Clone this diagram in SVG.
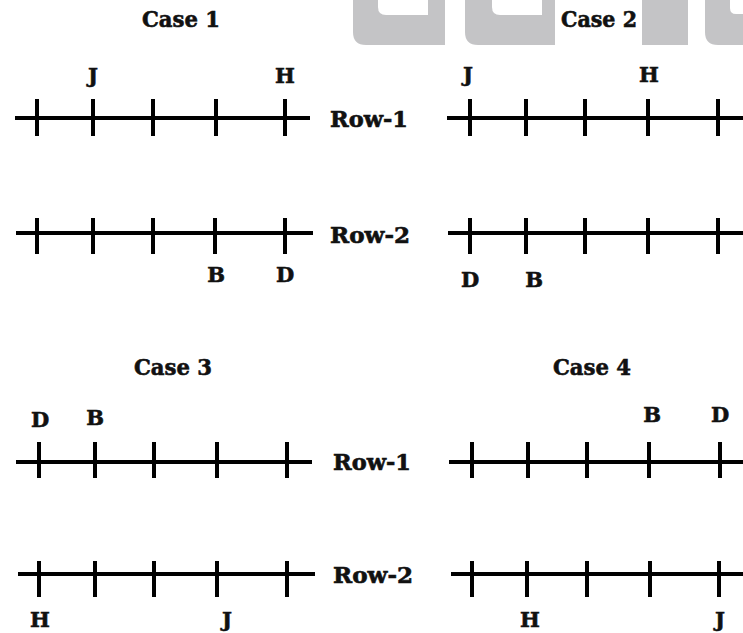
<svg xmlns="http://www.w3.org/2000/svg" width="743" height="633" viewBox="0 0 743 633">
<style>
.ln{stroke:#000;stroke-width:4;fill:none}
.tk{stroke:#000;stroke-width:4}
text{font-family:"DejaVu Serif","Liberation Serif",serif;font-weight:bold;fill:#111;stroke:#111;stroke-width:0.6}
.ttl{font-size:22px;text-anchor:middle}
.row{font-size:22px}
.lb{font-size:21px;text-anchor:middle}
.wm{fill:#c4c4c6}
</style>
<rect width="743" height="633" fill="#fff"/>
<g id="watermark">
<path class="wm" d="M353 0H445V45H366Q353 45 353 32Z"/>
<path fill="#fff" d="M378 0H428V15H386Q378 15 378 7Z"/>
<path class="wm" d="M465 0H555V45H478Q465 45 465 32Z"/>
<path fill="#fff" d="M492 0H542V15H500Q492 15 492 7Z"/>
<rect class="wm" x="642" y="0" width="46" height="45"/>
<path class="wm" d="M705 0H743V45H718Q705 45 705 32Z"/>
<path fill="#fff" d="M730 0H743V14H736Q730 14 730 8Z"/>
</g>
<g id="case1">
<text class="ttl" x="181" y="27" textLength="78" lengthAdjust="spacingAndGlyphs">Case 1</text>
<g id="case1-row1">
<text class="lb" x="93" y="83">J</text>
<text class="lb" x="285" y="83">H</text>
<line class="ln" x1="15" y1="118" x2="310" y2="118"/>
<path class="tk" d="M37 99V136M93 99V136M153 99V136M216 99V136M285 99V136"/>
<text class="row" x="330" y="127" textLength="78" lengthAdjust="spacingAndGlyphs">Row-1</text>
</g>
<g id="case1-row2">
<line class="ln" x1="16" y1="233" x2="313" y2="233"/>
<path class="tk" d="M37 218V254M93 218V254M153 218V254M215 218V254M285 218V254"/>
<text class="row" x="330" y="243" textLength="80" lengthAdjust="spacingAndGlyphs">Row-2</text>
<text class="lb" x="216" y="282">B</text>
<text class="lb" x="285" y="282">D</text>
</g>
</g>
<g id="case2">
<rect x="556" y="0" width="84" height="45" fill="#fff"/>
<text class="ttl" x="599" y="27" textLength="76" lengthAdjust="spacingAndGlyphs">Case 2</text>
<g id="case2-row1">
<text class="lb" x="468" y="82">J</text>
<text class="lb" x="649" y="82">H</text>
<line class="ln" x1="447" y1="118" x2="743" y2="118"/>
<path class="tk" d="M470 99V136M526 99V136M585 99V136M648 99V136M718 99V136"/>
</g>
<g id="case2-row2">
<line class="ln" x1="448" y1="233" x2="743" y2="233"/>
<path class="tk" d="M470 218V254M526 218V254M585 218V254M648 218V254M718 218V254"/>
<text class="lb" x="470" y="287">D</text>
<text class="lb" x="534" y="287">B</text>
</g>
</g>
<g id="case3">
<text class="ttl" x="173" y="375" textLength="78" lengthAdjust="spacingAndGlyphs">Case 3</text>
<g id="case3-row1">
<text class="lb" x="40" y="427">D</text>
<text class="lb" x="95" y="425">B</text>
<line class="ln" x1="16" y1="462" x2="312" y2="462"/>
<path class="tk" d="M39 442V478M95 442V478M154 442V478M217 442V478M287 442V478"/>
<text class="row" x="333" y="470" textLength="78" lengthAdjust="spacingAndGlyphs">Row-1</text>
</g>
<g id="case3-row2">
<line class="ln" x1="18" y1="574" x2="315" y2="574"/>
<path class="tk" d="M39 561V597M95 561V597M154 561V597M217 561V597M287 561V597"/>
<text class="row" x="333" y="583" textLength="80" lengthAdjust="spacingAndGlyphs">Row-2</text>
<text class="lb" x="40" y="627">H</text>
<text class="lb" x="227" y="627">J</text>
</g>
</g>
<g id="case4">
<text class="ttl" x="592" y="375" textLength="78" lengthAdjust="spacingAndGlyphs">Case 4</text>
<g id="case4-row1">
<text class="lb" x="652" y="422">B</text>
<text class="lb" x="720" y="422">D</text>
<line class="ln" x1="449" y1="462" x2="743" y2="462"/>
<path class="tk" d="M472 442V478M528 442V478M587 442V478M649 442V478M720 442V478"/>
</g>
<g id="case4-row2">
<line class="ln" x1="451" y1="574" x2="743" y2="574"/>
<path class="tk" d="M472 561V597M527 561V597M587 561V597M650 561V597M719 561V597"/>
<text class="lb" x="530" y="627">H</text>
<text class="lb" x="720" y="627">J</text>
</g>
</g>
</svg>
